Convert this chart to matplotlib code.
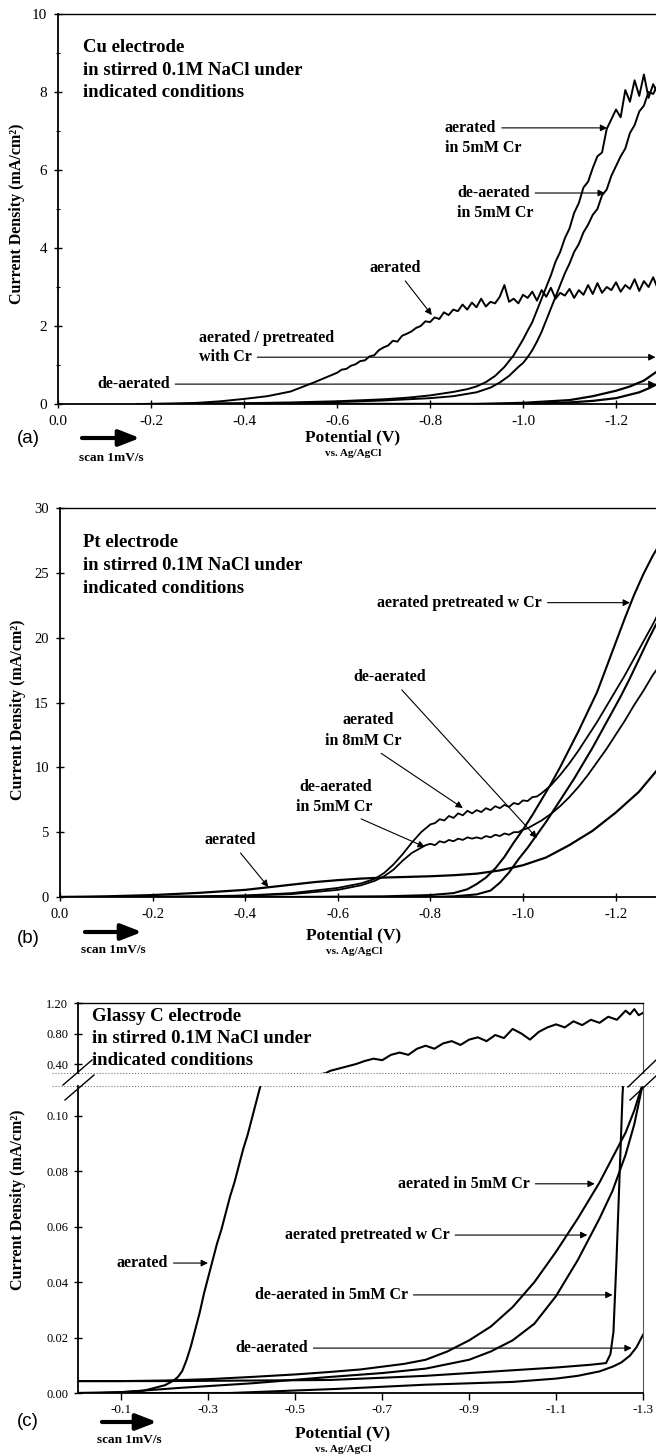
import numpy as np
import matplotlib.pyplot as plt
from matplotlib.lines import Line2D
from matplotlib.ticker import FormatStrFormatter, MultipleLocator

plt.rcParams['font.family'] = ['Liberation Serif', 'DejaVu Serif']
plt.rcParams['axes.unicode_minus'] = False

'''
Data read off the figure (potential in V vs Ag/AgCl, current density in mA/cm2)
'''
# ---- (a) Cu electrode ----
a_aer_v = [-0.17, -0.25, -0.30, -0.35, -0.40, -0.45, -0.50, -0.55,
           -0.60, -0.61, -0.62, -0.63, -0.64, -0.65, -0.66, -0.67, -0.68, -0.69,
           -0.70, -0.71, -0.72, -0.73, -0.74, -0.75, -0.76, -0.77, -0.78, -0.79,
           -0.80, -0.81, -0.82, -0.83, -0.84, -0.85, -0.86, -0.87, -0.88, -0.89,
           -0.90, -0.91, -0.92, -0.93, -0.94, -0.95, -0.96, -0.97, -0.98, -0.99,
           -1.00, -1.01, -1.02, -1.03, -1.04, -1.05, -1.06, -1.07, -1.08, -1.09,
           -1.10, -1.11, -1.12, -1.13, -1.14, -1.15, -1.16, -1.17, -1.18, -1.19,
           -1.20, -1.21, -1.22, -1.23, -1.24, -1.25, -1.26, -1.27, -1.28, -1.29, -1.30]
a_aer_i = [0.0, 0.01, 0.03, 0.07, 0.13, 0.20, 0.32, 0.55,
           0.80, 0.88, 0.90, 0.98, 1.02, 1.10, 1.12, 1.22, 1.25, 1.38,
           1.45, 1.50, 1.62, 1.60, 1.75, 1.80, 1.86, 1.95, 2.00, 2.12,
           2.10, 2.22, 2.18, 2.35, 2.28, 2.42, 2.38, 2.55, 2.42, 2.60,
           2.48, 2.70, 2.50, 2.62, 2.58, 2.75, 3.05, 2.62, 2.70, 2.58,
           2.80, 2.72, 2.88, 2.65, 2.92, 2.75, 2.98, 2.70, 2.85, 2.78,
           2.95, 2.72, 2.92, 2.80, 3.05, 2.82, 3.10, 2.85, 3.00, 2.92,
           3.12, 2.88, 3.05, 2.95, 3.20, 2.90, 3.15, 3.00, 3.25, 2.95, 3.10]

a_aer5_v = [-0.20, -0.30, -0.40, -0.50, -0.60, -0.70, -0.75, -0.80, -0.85, -0.88,
            -0.90, -0.92, -0.94, -0.96, -0.97, -0.98, -0.99, -1.00, -1.01, -1.02,
            -1.03, -1.04, -1.05, -1.06, -1.07, -1.08, -1.09, -1.10, -1.11, -1.12,
            -1.13, -1.14, -1.15, -1.16, -1.17, -1.18, -1.19, -1.20, -1.21, -1.22,
            -1.23, -1.24, -1.25, -1.26, -1.27, -1.28, -1.29]
a_aer5_i = [0.0, 0.01, 0.02, 0.04, 0.07, 0.12, 0.16, 0.22, 0.31, 0.38,
            0.45, 0.56, 0.72, 0.95, 1.10, 1.25, 1.45, 1.65, 1.88, 2.10,
            2.40, 2.70, 3.00, 3.30, 3.65, 3.90, 4.25, 4.50, 4.90, 5.15,
            5.55, 5.70, 6.05, 6.35, 6.45, 7.05, 7.30, 7.55, 7.35, 8.05,
            7.75, 8.30, 7.90, 8.45, 7.85, 8.20, 7.95]

a_deaer5_v = [-0.20, -0.40, -0.50, -0.60, -0.70, -0.80, -0.85, -0.90, -0.93, -0.95,
              -0.97, -0.99, -1.00, -1.01, -1.02, -1.03, -1.04, -1.05, -1.06, -1.07,
              -1.08, -1.09, -1.10, -1.11, -1.12, -1.13, -1.14, -1.15, -1.16, -1.17,
              -1.18, -1.19, -1.20, -1.21, -1.22, -1.23, -1.24, -1.25, -1.26, -1.27,
              -1.28, -1.29]
a_deaer5_i = [0.0, 0.01, 0.02, 0.05, 0.09, 0.15, 0.20, 0.30, 0.42, 0.55,
              0.72, 0.95, 1.05, 1.20, 1.38, 1.60, 1.85, 2.15, 2.45, 2.75,
              3.05, 3.35, 3.60, 3.90, 4.10, 4.40, 4.60, 4.85, 5.00, 5.35,
              5.50, 5.85, 6.10, 6.35, 6.55, 6.95, 7.15, 7.50, 7.65, 8.00,
              7.95, 8.20]

a_pre_v = [-0.20, -0.90, -1.00, -1.10, -1.15, -1.20, -1.23, -1.26, -1.29]
a_pre_i = [0.0, 0.0, 0.03, 0.10, 0.20, 0.34, 0.45, 0.60, 0.85]

a_deaer_v = [-0.30, -1.00, -1.10, -1.15, -1.20, -1.25, -1.27, -1.29]
a_deaer_i = [0.0, 0.0, 0.04, 0.08, 0.15, 0.30, 0.40, 0.52]

# ---- (b) Pt electrode ----
b_aer_v = [0.0, -0.05, -0.10, -0.20, -0.30, -0.40, -0.45, -0.50, -0.55, -0.60, -0.65,
           -0.70, -0.75, -0.80, -0.85, -0.90, -0.95, -1.00, -1.05, -1.10, -1.15,
           -1.20, -1.25, -1.29]
b_aer_i = [0.0, 0.02, 0.05, 0.15, 0.32, 0.55, 0.75, 0.95, 1.15, 1.30, 1.42,
           1.50, 1.55, 1.60, 1.68, 1.80, 2.05, 2.45, 3.05, 4.00, 5.10,
           6.50, 8.10, 9.80]

b_cr8_v = [0.0, -0.20, -0.30, -0.40, -0.50, -0.60, -0.65, -0.68, -0.70, -0.72,
           -0.74, -0.76, -0.77, -0.78, -0.79, -0.80, -0.81, -0.82, -0.83, -0.84,
           -0.85, -0.86, -0.87, -0.88, -0.89, -0.90, -0.91, -0.92, -0.93, -0.94,
           -0.95, -0.96, -0.97, -0.98, -0.99, -1.00, -1.01, -1.02, -1.03, -1.04,
           -1.05, -1.06, -1.08, -1.10, -1.12, -1.14, -1.16, -1.18, -1.20, -1.22,
           -1.24, -1.26, -1.28, -1.29]
b_cr8_i = [0.0, 0.02, 0.05, 0.12, 0.30, 0.70, 1.05, 1.40, 1.85, 2.50,
           3.30, 4.20, 4.60, 5.00, 5.30, 5.60, 5.70, 6.00, 5.90, 6.25,
           6.10, 6.45, 6.30, 6.65, 6.45, 6.70, 6.55, 6.85, 6.70, 7.00,
           6.85, 7.10, 6.95, 7.25, 7.15, 7.45, 7.40, 7.70, 7.75, 8.00,
           8.30, 8.60, 9.40, 10.3, 11.3, 12.4, 13.5, 14.7, 15.9, 17.1,
           18.4, 19.7, 21.0, 21.7]

b_cr5_v = [0.0, -0.20, -0.30, -0.40, -0.50, -0.60, -0.65, -0.68, -0.70, -0.72,
           -0.74, -0.76, -0.78, -0.79, -0.80, -0.81, -0.82, -0.83, -0.84, -0.85,
           -0.86, -0.87, -0.88, -0.89, -0.90, -0.91, -0.92, -0.93, -0.94, -0.95,
           -0.96, -0.97, -0.98, -0.99, -1.00, -1.01, -1.02, -1.04, -1.06, -1.08,
           -1.10, -1.12, -1.14, -1.16, -1.18, -1.20, -1.22, -1.24, -1.26, -1.28, -1.29]
b_cr5_i = [0.0, 0.02, 0.04, 0.10, 0.22, 0.55, 0.90, 1.25, 1.60, 2.10,
           2.80, 3.40, 3.80, 4.00, 4.10, 4.00, 4.30, 4.20, 4.40, 4.30,
           4.50, 4.40, 4.60, 4.50, 4.60, 4.50, 4.70, 4.60, 4.80, 4.70,
           4.90, 4.80, 5.00, 5.00, 5.20, 5.30, 5.50, 5.90, 6.40, 7.00,
           7.70, 8.50, 9.40, 10.4, 11.4, 12.5, 13.6, 14.8, 15.9, 17.1, 17.6]

b_pre_v = [0.0, -0.50, -0.70, -0.80, -0.85, -0.88, -0.90, -0.92, -0.94, -0.96,
           -0.98, -1.00, -1.02, -1.04, -1.06, -1.08, -1.10, -1.12, -1.14, -1.16,
           -1.18, -1.20, -1.22, -1.24, -1.26, -1.28, -1.29]
b_pre_i = [0.0, 0.0, 0.05, 0.15, 0.30, 0.60, 1.00, 1.50, 2.20, 3.10,
           4.20, 5.20, 6.30, 7.50, 8.70, 10.0, 11.4, 12.8, 14.3, 15.8,
           17.7, 19.6, 21.5, 23.3, 24.9, 26.3, 26.9]

b_deaer_v = [0.0, -0.80, -0.85, -0.90, -0.93, -0.95, -0.97, -0.99, -1.01, -1.03,
             -1.05, -1.07, -1.09, -1.11, -1.13, -1.15, -1.17, -1.19, -1.21, -1.23,
             -1.25, -1.27, -1.29]
b_deaer_i = [0.0, 0.0, 0.05, 0.20, 0.50, 1.10, 1.90, 2.90, 3.80, 4.80,
             5.80, 6.90, 8.00, 9.10, 10.3, 11.5, 12.8, 14.1, 15.4, 16.8,
             18.3, 19.8, 21.2]

# ---- (c) Glassy C electrode ----
c_aer_v = [0.0, -0.05, -0.10, -0.15, -0.20, -0.22, -0.23, -0.24, -0.25, -0.26,
           -0.27, -0.28, -0.29, -0.30, -0.31, -0.32, -0.33, -0.34, -0.35, -0.36,
           -0.37, -0.38, -0.39, -0.40, -0.41, -0.42, -0.50, -0.57,
           -0.58, -0.60, -0.62, -0.64, -0.66, -0.68, -0.70, -0.72, -0.74, -0.76,
           -0.78, -0.80, -0.82, -0.84, -0.86, -0.88, -0.90, -0.92, -0.94, -0.96,
           -0.98, -1.00, -1.02, -1.04, -1.06, -1.08, -1.10, -1.12, -1.14, -1.16,
           -1.18, -1.20, -1.22, -1.24, -1.26, -1.27, -1.28, -1.29, -1.30]
c_aer_i = [0.0, 0.0, 0.0003, 0.0008, 0.0028, 0.0045, 0.0058, 0.008, 0.012, 0.017,
           0.023, 0.029, 0.036, 0.042, 0.048, 0.054, 0.059, 0.065, 0.071, 0.076,
           0.082, 0.088, 0.093, 0.099, 0.105, 0.111, 0.20, 0.28,
           0.31, 0.34, 0.37, 0.40, 0.44, 0.47, 0.45, 0.52, 0.55, 0.52,
           0.60, 0.64, 0.60, 0.67, 0.70, 0.65, 0.72, 0.75, 0.70, 0.78,
           0.74, 0.86, 0.80, 0.72, 0.82, 0.88, 0.92, 0.88, 0.96, 0.91,
           0.98, 0.94, 1.02, 0.98, 1.10, 1.05, 1.12, 1.04, 1.07]

c_cr5_v = [0.0, -0.10, -0.20, -0.30, -0.40, -0.50, -0.58, -0.65, -0.70, -0.75,
           -0.80, -0.85, -0.90, -0.95, -1.00, -1.05, -1.10, -1.15, -1.20, -1.23,
           -1.26, -1.28, -1.30]
c_cr5_i = [0.0043, 0.0043, 0.0045, 0.005, 0.0058, 0.0067, 0.0076, 0.0085, 0.0095, 0.0105,
           0.012, 0.015, 0.019, 0.024, 0.031, 0.040, 0.051, 0.063, 0.076, 0.085,
           0.094, 0.102, 0.112]

c_pre_v = [0.0, -0.10, -0.23, -0.40, -0.58, -0.70, -0.80, -0.90, -0.95, -1.00,
           -1.05, -1.10, -1.15, -1.20, -1.23, -1.26, -1.28, -1.30]
c_pre_i = [0.0, 0.0003, 0.0018, 0.0035, 0.0058, 0.0072, 0.0088, 0.012, 0.015, 0.019,
           0.025, 0.035, 0.048, 0.063, 0.073, 0.086, 0.097, 0.112]

c_deaer5_v = [0.0, -0.20, -0.40, -0.58, -0.70, -0.80, -0.90, -1.00, -1.10, -1.18,
              -1.215, -1.225, -1.232, -1.239, -1.246, -1.253, -1.258]
c_deaer5_i = [0.0043, 0.0043, 0.0045, 0.0047, 0.0055, 0.0062, 0.0072, 0.0082, 0.0092, 0.0102,
              0.0108, 0.014, 0.022, 0.048, 0.078, 0.108, 0.12]

c_deaer_v = [0.0, -0.35, -0.45, -0.60, -0.80, -1.00, -1.10, -1.15, -1.20, -1.23,
             -1.25, -1.27, -1.285, -1.30]
c_deaer_i = [0.0, 0.0, 0.0006, 0.0015, 0.003, 0.004, 0.0052, 0.0062, 0.0078, 0.0095,
             0.011, 0.0135, 0.0165, 0.021]

'''
Layout helpers (pixel positions on a 656 x 1456 canvas)
'''
W, H = 656, 1456
fig = plt.figure(figsize=(W / 100, H / 100), dpi=100)


def fx(x):
    return x / W


def fy(y):
    return 1 - y / H


def add_ax(l, t, r, b):
    return fig.add_axes([fx(l), fy(b), (r - l) / W, (b - t) / H])


def fline(xs, ys, **kw):
    fig.add_artist(Line2D([fx(x) for x in xs], [fy(y) for y in ys],
                          transform=fig.transFigure, **kw))


def ftext(x, y, s, **kw):
    fig.text(fx(x), fy(y), s, **kw)


def label_arrow(ax, text, tip, at, ha='left'):
    ax.annotate(text, xy=tip, xytext=at, ha=ha, va='center',
                fontsize=11.5, fontweight='bold',
                arrowprops=dict(arrowstyle='-|>', lw=0.8, color='k',
                                mutation_scale=10, shrinkA=2, shrinkB=0))


def bold(ax, x, y, s, ha='left'):
    ax.text(x, y, s, ha=ha, va='center', fontsize=11.5, fontweight='bold')


def style_axis(ax, tick_size=11):
    ax.spines['right'].set_visible(False)
    for s in ['left', 'bottom']:
        ax.spines[s].set_linewidth(1.3)
    ax.spines['top'].set_linewidth(1.0)
    ax.tick_params(direction='inout', length=6, width=1.0, labelsize=tick_size, pad=5)
    ax.xaxis.set_major_formatter(FormatStrFormatter('%.1f'))


def footer(label_y, scan_y, pot_x, pot_y, arrow_x0, arrow_x1, arrow_y, tag):
    ftext(28, label_y, tag, family='Liberation Sans', fontsize=13.5, ha='center', va='center')
    fig.add_artist(plt.Annotation('', xy=(fx(arrow_x1), fy(arrow_y)), xycoords='figure fraction',
                                  xytext=(fx(arrow_x0), fy(arrow_y)), textcoords='figure fraction',
                                  arrowprops=dict(arrowstyle='-|>,head_length=0.9,head_width=0.35',
                                                  lw=3, color='k', mutation_scale=14,
                                                  shrinkA=0, shrinkB=0)))
    ftext((arrow_x0 + arrow_x1) / 2, scan_y, 'scan 1mV/s', fontsize=9.5, fontweight='bold',
          ha='center', va='center')
    ftext(pot_x, pot_y, 'Potential (V)', fontsize=12.5, fontweight='bold', ha='center', va='center')
    ftext(pot_x, pot_y + 16, 'vs. Ag/AgCl', fontsize=8, fontweight='bold', ha='center', va='center')


def title(x, baselines, electrode):
    lines = [electrode, 'in stirred 0.1M NaCl under', 'indicated conditions']
    for yb, s in zip(baselines, lines):
        ftext(x, yb, s, fontsize=13.5, fontweight='bold', ha='left', va='baseline')


'''
(a) Cu
'''
axa = add_ax(58, 14, 656, 404)
for v, i, w in [(a_aer_v, a_aer_i, 1.4), (a_aer5_v, a_aer5_i, 1.4), (a_deaer5_v, a_deaer5_i, 1.4),
                (a_pre_v, a_pre_i, 1.6), (a_deaer_v, a_deaer_i, 1.6)]:
    axa.plot(v, i, color='k', lw=w)
axa.set_xlim(0, -(656 - 58) / 465)
axa.set_ylim(0, 10)
axa.set_xticks([0.0, -0.2, -0.4, -0.6, -0.8, -1.0, -1.2])
axa.set_yticks([0, 2, 4, 6, 8, 10])
axa.yaxis.set_minor_locator(MultipleLocator(1))
axa.tick_params(axis='y', which='minor', direction='inout', length=3, width=0.8)
style_axis(axa)

label_arrow(axa, 'aerated', (-0.804, 2.28), (-0.725, 3.49), ha='center')
label_arrow(axa, 'aerated', (-1.181, 7.08), (-0.832, 7.08))
bold(axa, -0.832, 6.56, 'in 5mM Cr')
label_arrow(axa, 'de-aerated', (-1.176, 5.41), (-0.858, 5.41))
bold(axa, -0.858, 4.90, 'in 5mM Cr')
bold(axa, -0.303, 1.69, 'aerated / pretreated')
label_arrow(axa, 'with Cr', (-1.285, 1.2), (-0.303, 1.2))
label_arrow(axa, 'de-aerated', (-1.285, 0.51), (-0.084, 0.51))

title(83, [52, 75, 97], 'Cu electrode')
ftext(17, 214, 'Current Density (mA/cm²)', fontsize=11.5, fontweight='bold',
      rotation=90, ha='center', va='center')
footer(438, 458, 353, 437, 82, 140, 438, '(a)')

'''
(b) Pt
'''
axb = add_ax(60, 508, 656, 897)
for v, i, w in [(b_aer_v, b_aer_i, 1.6), (b_cr8_v, b_cr8_i, 1.3), (b_cr5_v, b_cr5_i, 1.3),
                (b_pre_v, b_pre_i, 1.5), (b_deaer_v, b_deaer_i, 1.5)]:
    axb.plot(v, i, color='k', lw=w)
axb.set_xlim(0, -(656 - 60) / 463)
axb.set_ylim(0, 30)
axb.set_xticks([0.0, -0.2, -0.4, -0.6, -0.8, -1.0, -1.2])
axb.set_yticks([0, 5, 10, 15, 20, 25, 30])
style_axis(axb, 10.5)

label_arrow(axb, 'aerated pretreated w Cr', (-1.231, 22.7), (-1.041, 22.7), ha='right')
label_arrow(axb, 'de-aerated', (-1.03, 4.55), (-0.713, 16.96), ha='center')
bold(axb, -0.665, 13.65, 'aerated', ha='center')
label_arrow(axb, 'in 8mM Cr', (-0.87, 6.86), (-0.654, 12.03), ha='center')
bold(axb, -0.596, 8.48, 'de-aerated', ha='center')
label_arrow(axb, 'in 5mM Cr', (-0.788, 3.86), (-0.592, 6.94), ha='center')
label_arrow(axb, 'aerated', (-0.45, 0.77), (-0.367, 4.39), ha='center')

title(83, [547, 570, 593], 'Pt electrode')
ftext(18, 710, 'Current Density (mA/cm²)', fontsize=11.5, fontweight='bold',
      rotation=90, ha='center', va='center')
footer(938, 950, 354, 935, 85, 142, 932, '(b)')

'''
(c) Glassy C, broken y axis
'''
axu = add_ax(78, 1003, 643, 1073)
axl = add_ax(78, 1086, 643, 1393)
curves_c = [(c_aer_v, c_aer_i), (c_cr5_v, c_cr5_i), (c_pre_v, c_pre_i),
            (c_deaer5_v, c_deaer5_i), (c_deaer_v, c_deaer_i)]
for ax in (axu, axl):
    for v, i in curves_c:
        ax.plot(v, i, color='k', lw=1.5)
    ax.set_xlim(0, -1.3)
    ax.spines['right'].set_linewidth(0.8)
    ax.spines['right'].set_color('#555555')
    ax.spines['left'].set_linewidth(1.3)
    ax.tick_params(axis='y', direction='inout', length=6, width=1.0, labelsize=9, pad=4)

axu.set_ylim(0.282, 1.2)
axu.set_yticks([0.4, 0.8, 1.2])
axu.yaxis.set_major_formatter(FormatStrFormatter('%.2f'))
axu.set_xticks([])
axu.spines['bottom'].set_visible(False)
axu.spines['top'].set_linewidth(1.0)

axl.set_ylim(0, 0.1108)
axl.set_yticks([0.0, 0.02, 0.04, 0.06, 0.08, 0.10])
axl.yaxis.set_major_formatter(FormatStrFormatter('%.2f'))
axl.set_xticks([-0.1, -0.3, -0.5, -0.7, -0.9, -1.1, -1.3])
axl.xaxis.set_major_formatter(FormatStrFormatter('%.1f'))
axl.tick_params(axis='x', direction='out', length=5, width=1.0, labelsize=9.5, pad=3)
axl.spines['top'].set_visible(False)
axl.spines['bottom'].set_linewidth(1.3)

# dotted break lines and diagonal break marks
fline([52, 656], [1073, 1073], color='#777777', lw=0.8, ls=':')
fline([52, 656], [1086, 1086], color='#777777', lw=0.8, ls=':')
fline([63, 92], [1085, 1060], color='k', lw=1.0)
fline([65, 94], [1100, 1075], color='k', lw=1.0)
fline([628, 656], [1087, 1060], color='k', lw=1.0)
fline([630, 656], [1100, 1076], color='k', lw=1.0)

label_arrow(axl, 'aerated', (-0.299, 0.0469), (-0.207, 0.0469), ha='right')
label_arrow(axl, 'aerated in 5mM Cr', (-1.189, 0.0755), (-0.736, 0.0755))
label_arrow(axl, 'aerated pretreated w Cr', (-1.172, 0.0570), (-0.855, 0.0570), ha='right')
label_arrow(axl, 'de-aerated in 5mM Cr', (-1.23, 0.0354), (-0.759, 0.0354), ha='right')
label_arrow(axl, 'de-aerated', (-1.274, 0.0162), (-0.529, 0.0162), ha='right')

title(92, [1021, 1043, 1065], 'Glassy C electrode')
ftext(18, 1200, 'Current Density (mA/cm²)', fontsize=11.5, fontweight='bold',
      rotation=90, ha='center', va='center')
footer(1422, 1440, 343, 1433, 102, 157, 1422, '(c)')

fig.savefig('out.png', dpi=100)
